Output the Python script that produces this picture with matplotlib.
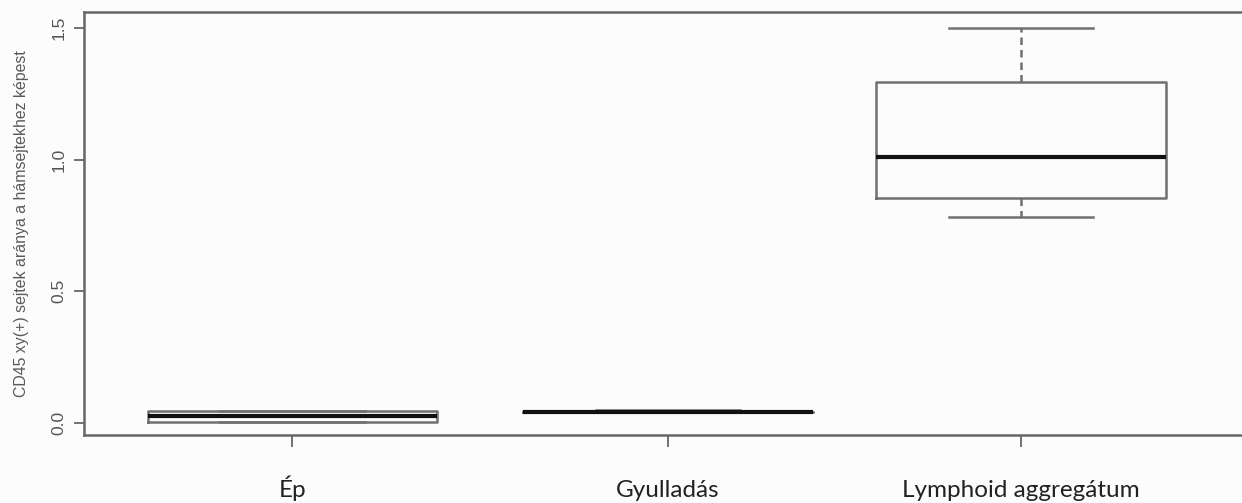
import matplotlib
matplotlib.use("Agg")
import matplotlib.pyplot as plt

categories = ["Ép", "Gyulladás", "Lymphoid aggregátum"]
whisker_low = [0.005, 0.043, 0.781]
q1 = [0.005, 0.043, 0.853]
median = [0.027, 0.043, 1.011]
q3 = [0.047, 0.043, 1.296]
whisker_high = [0.047, 0.048, 1.500]
y_ticks = [0.0, 0.5, 1.0, 1.5]
y_label = "CD45 xy(+) sejtek aránya a hámsejtekhez képest"

positions = [1, 2, 2.94]

W, H = 1242, 503
fig = plt.figure(figsize=(W / 100, H / 100), dpi=100)
fig.patch.set_facecolor("#fcfcfc")
ax = fig.add_axes([84 / W, 1 - 435 / H, (1250 - 84) / W, (435 - 12) / H])
ax.set_facecolor("#fcfcfc")

stats = []
for i, c in enumerate(categories):
    stats.append(dict(label=c, whislo=whisker_low[i], q1=q1[i], med=median[i],
                      q3=q3[i], whishi=whisker_high[i], fliers=[]))

box_color = "#707070"
ax.bxp(stats, positions=positions, widths=0.77, showfliers=False,
       boxprops=dict(color=box_color, linewidth=1.8),
       medianprops=dict(color="#111111", linewidth=3.0, solid_capstyle="butt"),
       whiskerprops=dict(color=box_color, linewidth=1.8, linestyle=(0, (3, 2))),
       capprops=dict(color=box_color, linewidth=1.8),
       capwidths=0.385)

ax.set_xlim(0.445, 3.55)
ax.set_ylim(-0.0456, 1.561)

ax.set_yticks(y_ticks)
ax.set_yticklabels([f"{v:.1f}" for v in y_ticks], rotation=90, va="center",
                   fontsize=12.5, color="#555555", family="Liberation Sans")
ax.tick_params(axis="y", length=7.5, width=1.3, color="#666666", pad=5)

ax.set_xticks(positions)
ax.set_xticklabels(categories, fontsize=17.5, color="#222222", family="Lato",
                   va="baseline")
ax.tick_params(axis="x", length=8.5, width=1.3, color="#666666", pad=36)

ax.set_ylabel(y_label, fontsize=11.4, color="#5a5a5a", family="Liberation Sans",
              labelpad=16)

for s in ["left", "top", "bottom"]:
    ax.spines[s].set_color("#666666")
    ax.spines[s].set_linewidth(1.8)
ax.spines["right"].set_visible(False)

fig.savefig("out.png", dpi=100, facecolor=fig.get_facecolor())
